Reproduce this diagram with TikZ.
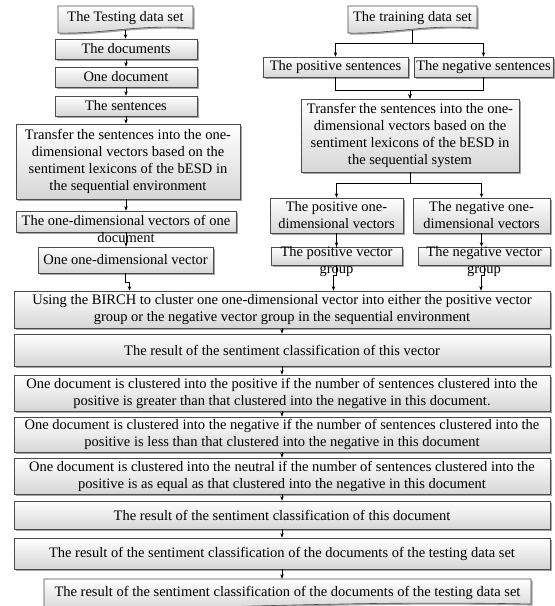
\documentclass[tikz,border=0pt]{standalone}
\usepackage{fontspec}
\setmainfont{Liberation Serif}
\usetikzlibrary{shadows,calc,arrows.meta}
\newcommand{\fs}{\fontsize{14.5}{17}\selectfont}
\tikzset{
  box/.style={draw=black!70, line width=0.6pt, top color=white, bottom color=black!16,
    drop shadow={shadow xshift=1.6pt, shadow yshift=-1.6pt, fill=black!50, opacity=0.7},
    inner sep=0pt, align=center, font=\fs},
  txt/.style={inner sep=0pt, align=center, font=\fs},
  arr/.style={draw=black, line width=0.6pt, -{Stealth[length=4.5pt,width=3.4pt]}},
  docfill/.style={draw=black!70, line width=0.6pt, top color=white, bottom color=black!16},
  docshadow/.style={fill=black!50, opacity=0.7},
}
% [style]{name}{x1}{x2}{y1}{y2}{text}
\newcommand{\bx}[7][box]{\node[#1, minimum width={(#4-#3)*1pt}, minimum height={(#6-#5)*1pt}] (#2) at ({(#3+#4)/2},{(#5+#6)/2}) {#7};}
% {name}{x1}{x2}{ytop}{ybottom-left}{text}
\newcommand{\docbox}[6]{%
  \path[docshadow, xshift=1.6pt, yshift=-1.6pt] (#2,#4) -- (#3,#4) -- (#3,#5-5) .. controls ({#3-0.4*(#3-#2)},#5-9) and ({#2+0.35*(#3-#2)},#5+1) .. (#2,#5) -- cycle;
  \path[docfill] (#2,#4) -- (#3,#4) -- (#3,#5-5) .. controls ({#3-0.4*(#3-#2)},#5-9) and ({#2+0.35*(#3-#2)},#5+1) .. (#2,#5) -- cycle;
  \node[txt, minimum width={(#3-#2)*1pt}, minimum height={(#5-3-#4)*1pt}] (#1) at ({(#2+#3)/2},{(#4+#5-3)/2}) {#6};}
\begin{document}
\begin{tikzpicture}[x=1pt, y=-1pt]
\useasboundingbox[fill=white] (0,0) rectangle (555,606);
% left column
\docbox{A}{58}{193}{6}{33}{The Testing data set}
\bx{B}{55}{197}{39}{59}{The documents}
\bx{C}{55}{197}{67}{87}{One document}
\bx{D}{55}{197}{96}{116}{The sentences}
\bx{E}{16}{240}{124}{199}{Transfer the sentences into the one-\\dimensional vectors based on the\\sentiment lexicons of the bESD in\\the sequential environment}
\bx{F}{16}{236}{211}{232}{}
\node[txt] (Ft) at ([yshift=-7pt]F.center) {The one-dimensional vectors of one\\document};
\bx{G}{38}{213}{247}{273}{One one-dimensional vector}
% right column
\docbox{H}{348}{477}{6}{33}{The training data set}
\bx{I}{263}{408}{57}{77}{The positive sentences}
\bx{J}{414}{553}{57}{77}{The negative sentences}
\bx{K}{301}{519}{99}{172}{Transfer the sentences into the one-\\dimensional vectors based on the\\sentiment lexicons of the bESD in\\the sequential system}
\bx{L}{270}{403}{198}{233}{The positive one-\\dimensional vectors}
\bx{M}{413}{550}{198}{233}{The negative one-\\dimensional vectors}
\bx{N}{271}{402}{247}{265}{}
\node[txt] (Nt) at ([yshift=-6pt]N.center) {The positive vector\\group};
\bx{O}{418}{550}{247}{265}{}
\node[txt] (Ot) at ([yshift=-6pt]O.center) {The negative vector\\group};
% bottom
\bx{P}{14}{550}{291}{328}{Using the BIRCH to cluster one one-dimensional vector into either the positive vector\\group or the negative vector group in the sequential environment}
\bx{Q}{14}{550}{334}{366}{The result of the sentiment classification of this vector}
\bx{R}{14}{550}{375}{411}{One document is clustered into the positive if the number of sentences clustered into the\\positive is greater than that clustered into the negative in this document.}
\bx{S}{14}{550}{417}{452}{One document is clustered into the negative if the number of sentences clustered into the\\positive is less than that clustered into the negative in this document}
\bx{T}{14}{550}{458}{494}{One document is clustered into the neutral if the number of sentences clustered into the\\positive is as equal as that clustered into the negative in this document}
\bx{U}{14}{550}{501}{529}{The result of the sentiment classification of this document}
\bx{V}{14}{550}{538}{569}{The result of the sentiment classification of the documents of the testing data set}
\docbox{W}{44}{531}{579}{609}{The result of the sentiment classification of the documents of the testing data set}
% connectors left
\draw[arr] (A.south) -- (A.south |- B.north);
\draw[arr] (B.south) -- (B.south |- C.north);
\draw[arr] (C.south) -- (C.south |- D.north);
\draw[arr] (D.south) -- (D.south |- E.north);
\draw[arr] (D.south |- E.south) -- (D.south |- F.north);
\draw[arr] (D.south |- F.south) -- (D.south |- G.north);
\draw[arr] (G.south) -- ++(0,9) -- ++(4,0) -- ([xshift=4pt]G.south |- P.north);
% connectors right
\draw[arr] (H.south) -- ++(0,13) -| (I.north);
\draw[arr] (H.south) -- ++(0,13) -| (J.north);
\draw[arr] (I.south) -- ++(0,13) -| (K.north);
\draw[arr] (J.south) -- ++(0,13) -| (K.north);
\draw[arr] (K.south) -- ++(0,11) -| (L.north);
\draw[arr] (K.south) -- ++(0,11) -| (M.north);
\draw[arr] (L.south) -- (L.south |- N.north);
\draw[arr] (M.south) -- (M.south |- O.north);
\draw[arr] (N.south) -- ++(0,10) -- ++(-3,0) -- ([xshift=-3pt]N.south |- P.north);
\draw[arr] (O.south) -- ++(0,10) -- ++(-3,0) -- ([xshift=-3pt]O.south |- P.north);
% bottom chain
\draw[arr] (P.south) -- (Q.north);
\draw[arr] (Q.south) -- (R.north);
\draw[arr] (R.south) -- (S.north);
\draw[arr] (S.south) -- (T.north);
\draw[arr] (T.south) -- (U.north);
\draw[arr] (U.south) -- (V.north);
\draw[arr] (V.south) -- (V.south |- W.north);
\end{tikzpicture}
\end{document}
